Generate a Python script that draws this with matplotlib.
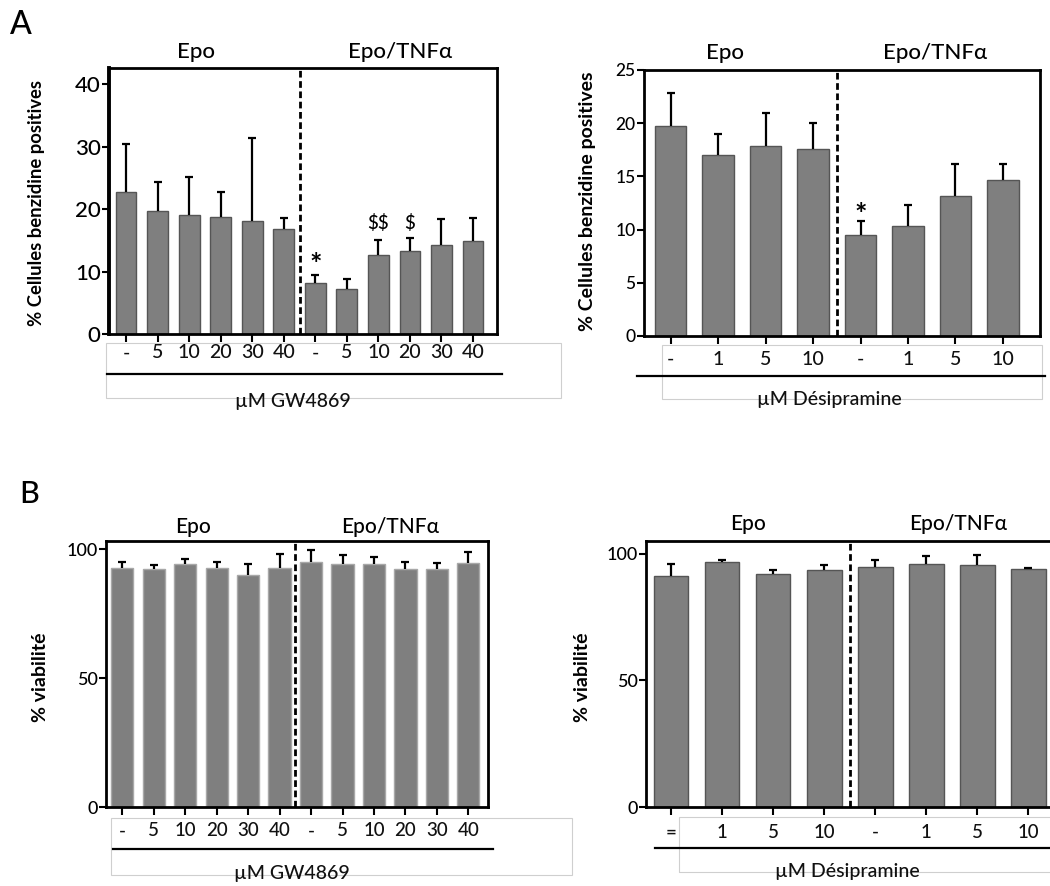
import numpy as np
import matplotlib
matplotlib.use("Agg")
import matplotlib.pyplot as plt
from matplotlib import transforms
from matplotlib.patches import Rectangle
from matplotlib.lines import Line2D

plt.rcParams['font.family'] = ['Lato', 'DejaVu Sans']

W, H = 1050, 886

# ---------------- data ----------------
gw_labels = ["-", "5", "10", "20", "30", "40", "-", "5", "10", "20", "30", "40"]
des_labels = ["-", "1", "5", "10", "-", "1", "5", "10"]
des_labels_b = ["=", "1", "5", "10", "-", "1", "5", "10"]

a_gw_mean = [22.7, 19.7, 19.1, 18.8, 18.1, 16.8, 8.1, 7.2, 12.6, 13.3, 14.3, 14.9]
a_gw_top = [30.5, 24.4, 25.1, 22.8, 31.4, 18.5, 9.5, 8.8, 15.0, 15.4, 18.4, 18.6]

a_des_mean = [19.75, 17.05, 17.85, 17.6, 9.5, 10.35, 13.2, 14.7]
a_des_top = [22.8, 19.0, 20.95, 20.05, 10.85, 12.3, 16.15, 16.15]

b_gw_mean = [92.9, 92.4, 94.1, 92.8, 89.9, 92.8, 95.0, 94.1, 94.3, 92.3, 92.4, 94.8]
b_gw_top = [95.0, 93.8, 96.3, 95.1, 94.1, 98.2, 99.6, 97.7, 97.0, 95.1, 94.5, 99.1]

b_des_mean = [91.2, 97.0, 92.2, 93.6, 95.0, 96.2, 95.5, 94.1]
b_des_top = [95.9, 97.5, 93.8, 95.7, 97.6, 99.3, 99.5, 94.6]

groups = ["Epo", "Epo/TNF\u03b1"]

fig = plt.figure(figsize=(W / 100, H / 100), dpi=100)


def fx(px):
    return px / W


def fy(py):
    return 1 - py / H


def make_panel(box, xlim, ylim, yticks, means, tops, xlabels, split,
               ytick_fs, group_pos, group_fs, ylabel, ylabel_pos, ylabel_fs,
               xtick_y, xtick_fs, line_y, line_x, unit_text, unit_pos,
               edgecolor, lw_frame=2.0, barw=0.66, cap=3.2, left_lw=None):
    x0, y0, x1, y1 = box
    ax = fig.add_axes([fx(x0), fy(y1), fx(x1 - x0), (y1 - y0) / H])
    x = np.arange(len(means))
    means = np.array(means)
    tops = np.array(tops)
    ax.bar(x, means, width=barw, color="#7f7f7f", edgecolor=edgecolor,
           linewidth=1.0, zorder=2)
    _, caps, _ = ax.errorbar(x, means, yerr=[np.zeros_like(means), tops - means],
                             fmt="none", ecolor="black", elinewidth=1.6,
                             capsize=cap, capthick=1.6, zorder=3)
    caps[0].set_visible(False)
    ax.axvline(split, color="black", lw=2.0, linestyle=(0, (2.4, 1.3)), zorder=4)
    ax.set_xlim(*xlim)
    ax.set_ylim(*ylim)
    ax.set_yticks(yticks)
    ax.set_yticklabels([str(v) for v in yticks], fontsize=ytick_fs,
                       fontweight="medium")
    ax.set_xticks(x)
    ax.set_xticklabels([])
    ax.tick_params(axis="y", direction="out", length=5, width=1.5, pad=1)
    ax.tick_params(axis="x", direction="out", length=6, width=1.5)
    for s in ax.spines.values():
        s.set_linewidth(lw_frame)
        s.set_color("black")
    if left_lw:
        ax.spines["left"].set_linewidth(left_lw)
    ax.patch.set_alpha(0)

    # tick labels row
    bt = transforms.blended_transform_factory(ax.transData, fig.transFigure)
    for xi, lab in zip(x, xlabels):
        ax.text(xi, fy(xtick_y), lab, transform=bt, ha="center", va="center",
                fontsize=xtick_fs, color="#111111", clip_on=False,
                fontweight="medium")
    # group labels
    for (gx, gy), g in zip(group_pos, groups):
        fig.text(fx(gx), fy(gy), g, ha="center", va="center", fontsize=group_fs,
                 fontweight="medium")
    # y label
    fig.text(fx(ylabel_pos[0]), fy(ylabel_pos[1]), ylabel, rotation=90,
             ha="center", va="center", fontsize=ylabel_fs, fontweight="bold")
    # horizontal line under labels
    fig.add_artist(Line2D([fx(line_x[0]), fx(line_x[1])], [fy(line_y), fy(line_y)],
                          color="black", lw=1.6))
    fig.text(fx(unit_pos[0]), fy(unit_pos[1]), unit_text, ha="center",
             va="center", fontsize=14, color="#111111", fontweight="medium")
    return ax


def gray_box(x0, y0, x1, y1):
    fig.add_artist(Rectangle((fx(x0), fy(y1)), fx(x1 - x0), (y1 - y0) / H,
                             fill=False, edgecolor="#cfcfcf", lw=0.8, zorder=0))


# faint boxes (slide artefacts)
gray_box(106, 343, 561, 398)
gray_box(662, 345, 1042, 399)
gray_box(111, 818, 572, 875)
gray_box(679, 817, 1060, 872)

# ---- Panel A left ----
axA1 = make_panel((109, 68, 497, 334), (-0.54, 11.76), (0, 42.6), [0, 10, 20, 30, 40],
                  a_gw_mean, a_gw_top, gw_labels, 5.5, 16,
                  [(196, 52), (400, 52)], 16,
                  "% Cellules benzidine positives", (37, 203), 13.3,
                  353, 14, 374, (107, 502), "\u00b5M GW4869", (293, 402),
                  edgecolor="#555555", left_lw=2.8)
axA1.text(6, 11.0, "*", ha="center", va="center", fontsize=21, fontweight="bold")
axA1.text(8, 17.8, r"\$\$", ha="center", va="center", fontsize=13.5,
          fontweight="medium")
axA1.text(9, 17.8, r"\$", ha="center", va="center", fontsize=13.5,
          fontweight="medium")

# ---- Panel A right ----
axA2 = make_panel((644, 70, 1040, 336), (-0.56, 7.78), (0, 25), [0, 5, 10, 15, 20, 25],
                  a_des_mean, a_des_top, des_labels, 3.5, 12.5,
                  [(725, 53), (935, 53)], 16,
                  "% Cellules benzidine positives", (587, 201), 14,
                  359, 14, 376, (637, 1045), "\u00b5M D\u00e9sipramine", (829, 400),
                  edgecolor="#555555")
axA2.text(4, 11.4, "*", ha="center", va="center", fontsize=21, fontweight="bold")

# ---- Panel B left ----
axB1 = make_panel((106, 541, 488, 807), (-0.51, 11.62), (0, 103.2), [0, 50, 100],
                  b_gw_mean, b_gw_top, gw_labels, 5.5, 13,
                  [(193, 527), (390, 527)], 15,
                  "% viabilit\u00e9", (40, 677), 14,
                  831, 13.5, 849, (113, 493), "\u00b5M GW4869", (292, 874),
                  edgecolor="#a8a8a8", barw=0.70, cap=2.6)

# ---- Panel B right ----
axB2 = make_panel((646, 541, 1060, 807), (-0.49, 7.62), (0, 105.1), [0, 50, 100],
                  b_des_mean, b_des_top, des_labels_b, 3.5, 13,
                  [(748, 524), (958, 524)], 15,
                  "% viabilit\u00e9", (583, 677), 14,
                  832, 13.5, 848, (655, 1050), "\u00b5M D\u00e9sipramine", (847, 872),
                  edgecolor="#555555", barw=0.68, cap=3.0)

fig.text(fx(10), fy(25), "A", ha="left", va="center", fontsize=23,
         fontweight="medium")
fig.text(fx(19), fy(494), "B", ha="left", va="center", fontsize=22,
         fontweight="medium")

fig.savefig("out.png", dpi=100)
